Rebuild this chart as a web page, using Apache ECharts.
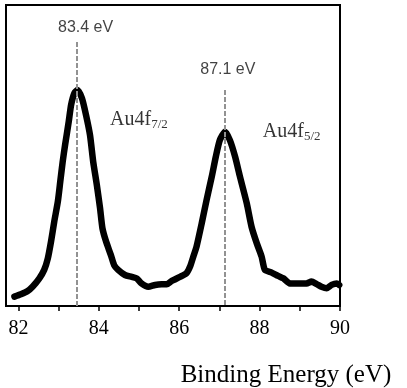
<!DOCTYPE html>
<html>
<head>
<meta charset="utf-8">
<script src="https://cdn.jsdelivr.net/npm/echarts@6/dist/echarts.min.js"></script>
<style>
  html, body { margin: 0; padding: 0; background: #fff; }
  #chart { width: 407px; height: 388px; }
</style>
</head>
<body>
<div id="chart"></div>
<script>
// XPS Au 4f spectrum, intensity in arbitrary units (0..100)
const energy = [81.90, 82.06, 82.23, 82.35, 82.52, 82.64, 82.73, 82.81, 82.89, 82.98,
  83.04, 83.10, 83.16, 83.25, 83.31, 83.39, 83.47, 83.58, 83.68, 83.78,
  83.86, 83.95, 84.03, 84.09, 84.18, 84.30, 84.38, 84.48, 84.65, 84.82,
  84.94, 85.06, 85.23, 85.40, 85.56, 85.69, 85.81, 86.02, 86.18, 86.27,
  86.35, 86.43, 86.56, 86.68, 86.81, 86.91, 87.01, 87.14, 87.26, 87.39,
  87.51, 87.68, 87.80, 87.93, 88.05, 88.13, 88.30, 88.46, 88.59, 88.75,
  89.00, 89.17, 89.29, 89.42, 89.54, 89.67, 89.79, 89.92, 89.98];
const intensity = [3.1, 3.9, 5.0, 6.4, 9.2, 12.0, 15.8, 21.4, 28.0, 34.7,
  41.3, 47.9, 53.5, 61.2, 66.8, 70.7, 71.8, 69.0, 63.5, 56.8,
  47.9, 40.2, 32.5, 25.8, 21.4, 16.9, 13.6, 12.0, 10.3, 9.7,
  9.2, 7.5, 6.4, 7.0, 7.2, 7.2, 8.3, 9.7, 10.9, 13.1,
  16.4, 19.7, 27.5, 35.2, 43.0, 49.6, 55.1, 57.9, 55.1, 49.6,
  43.0, 34.1, 26.3, 20.8, 16.4, 12.0, 11.1, 10.0, 9.2, 7.5,
  7.5, 7.5, 8.1, 7.3, 6.4, 5.9, 7.0, 7.5, 7.0];

const peakEnergies = [83.45, 87.13];
const peakLineTops = [87.7, 71.8];
const peakLabels = ['83.4 eV', '87.1 eV'];
const peakLabelPos = [[83.67, 92.4], [87.21, 78.7]];
const stateSubs = ['7/2', '5/2'];
const stateLabelPos = [[84.28, 61.8], [88.08, 58.0]];
const xTicks = [82, 83, 84, 85, 86, 87, 88, 89, 90];
const xTickLabels = [82, 84, 86, 88, 90];

const chart = echarts.init(document.getElementById('chart'));

const serif = '"Liberation Serif", "Times New Roman", serif';

const option = {
  animation: false,
  grid: {
    show: true,
    left: 6, right: 67, top: 5, bottom: 82,
    borderColor: '#000',
    borderWidth: 2,
    containLabel: false,
    outerBoundsMode: 'none'
  },
  xAxis: {
    type: 'value',
    min: 81.69,
    max: 90,
    axisLine: { show: true, lineStyle: { color: '#000', width: 2 } },
    axisTick: { show: true, customValues: xTicks, length: 5, lineStyle: { color: '#000', width: 1.5 } },
    axisLabel: {
      customValues: xTickLabels,
      color: '#000',
      fontFamily: serif,
      fontSize: 20,
      margin: 13
    },
    splitLine: { show: false },
    name: 'Binding Energy (eV)',
    nameLocation: 'middle',
    nameGap: 57,
    nameTextStyle: {
      color: '#000',
      fontFamily: serif,
      fontSize: 25,
      padding: [0, 0, 0, 226]
    }
  },
  yAxis: {
    type: 'value',
    min: 0,
    max: 100,
    axisLine: { show: true, lineStyle: { color: '#000', width: 2 } },
    axisTick: { show: false },
    axisLabel: { show: false },
    splitLine: { show: false }
  },
  series: [
    {
      type: 'line',
      data: energy.map((e, i) => [e, intensity[i]]),
      showSymbol: false,
      smooth: 0.2,
      lineStyle: { color: '#000', width: 6.5, join: 'round', cap: 'round' },
      z: 2,
      markLine: {
        silent: true,
        symbol: 'none',
        z: 5,
        label: { show: false },
        lineStyle: { color: '#929292', type: [5, 2], width: 2 },
        data: peakEnergies.map((e, i) => [
          { coord: [e, peakLineTops[i]] },
          { coord: [e, 0] }
        ])
      }
    },
    {
      type: 'scatter',
      symbolSize: 0,
      silent: true,
      data: peakLabelPos.map((p, i) => ({ value: p, name: peakLabels[i] })),
      label: {
        show: true,
        position: 'inside',
        formatter: '{b}',
        color: '#111',
        fontFamily: '"Liberation Sans", Arial, sans-serif',
        fontSize: 16
      },
      z: 6
    },
    {
      type: 'scatter',
      symbolSize: 0,
      silent: true,
      data: stateLabelPos.map((p, i) => ({ value: p, name: stateSubs[i] })),
      label: {
        show: true,
        position: 'inside',
        align: 'left',
        verticalAlign: 'middle',
        formatter: '{m|Au4f}{s|{b}}',
        rich: {
          m: { fontFamily: serif, fontSize: 20, color: '#000' },
          s: { fontFamily: serif, fontSize: 13, color: '#000', padding: [10, 0, 0, 0] }
        }
      },
      z: 6
    }
  ]
};

chart.setOption(option);
</script>
</body>
</html>
